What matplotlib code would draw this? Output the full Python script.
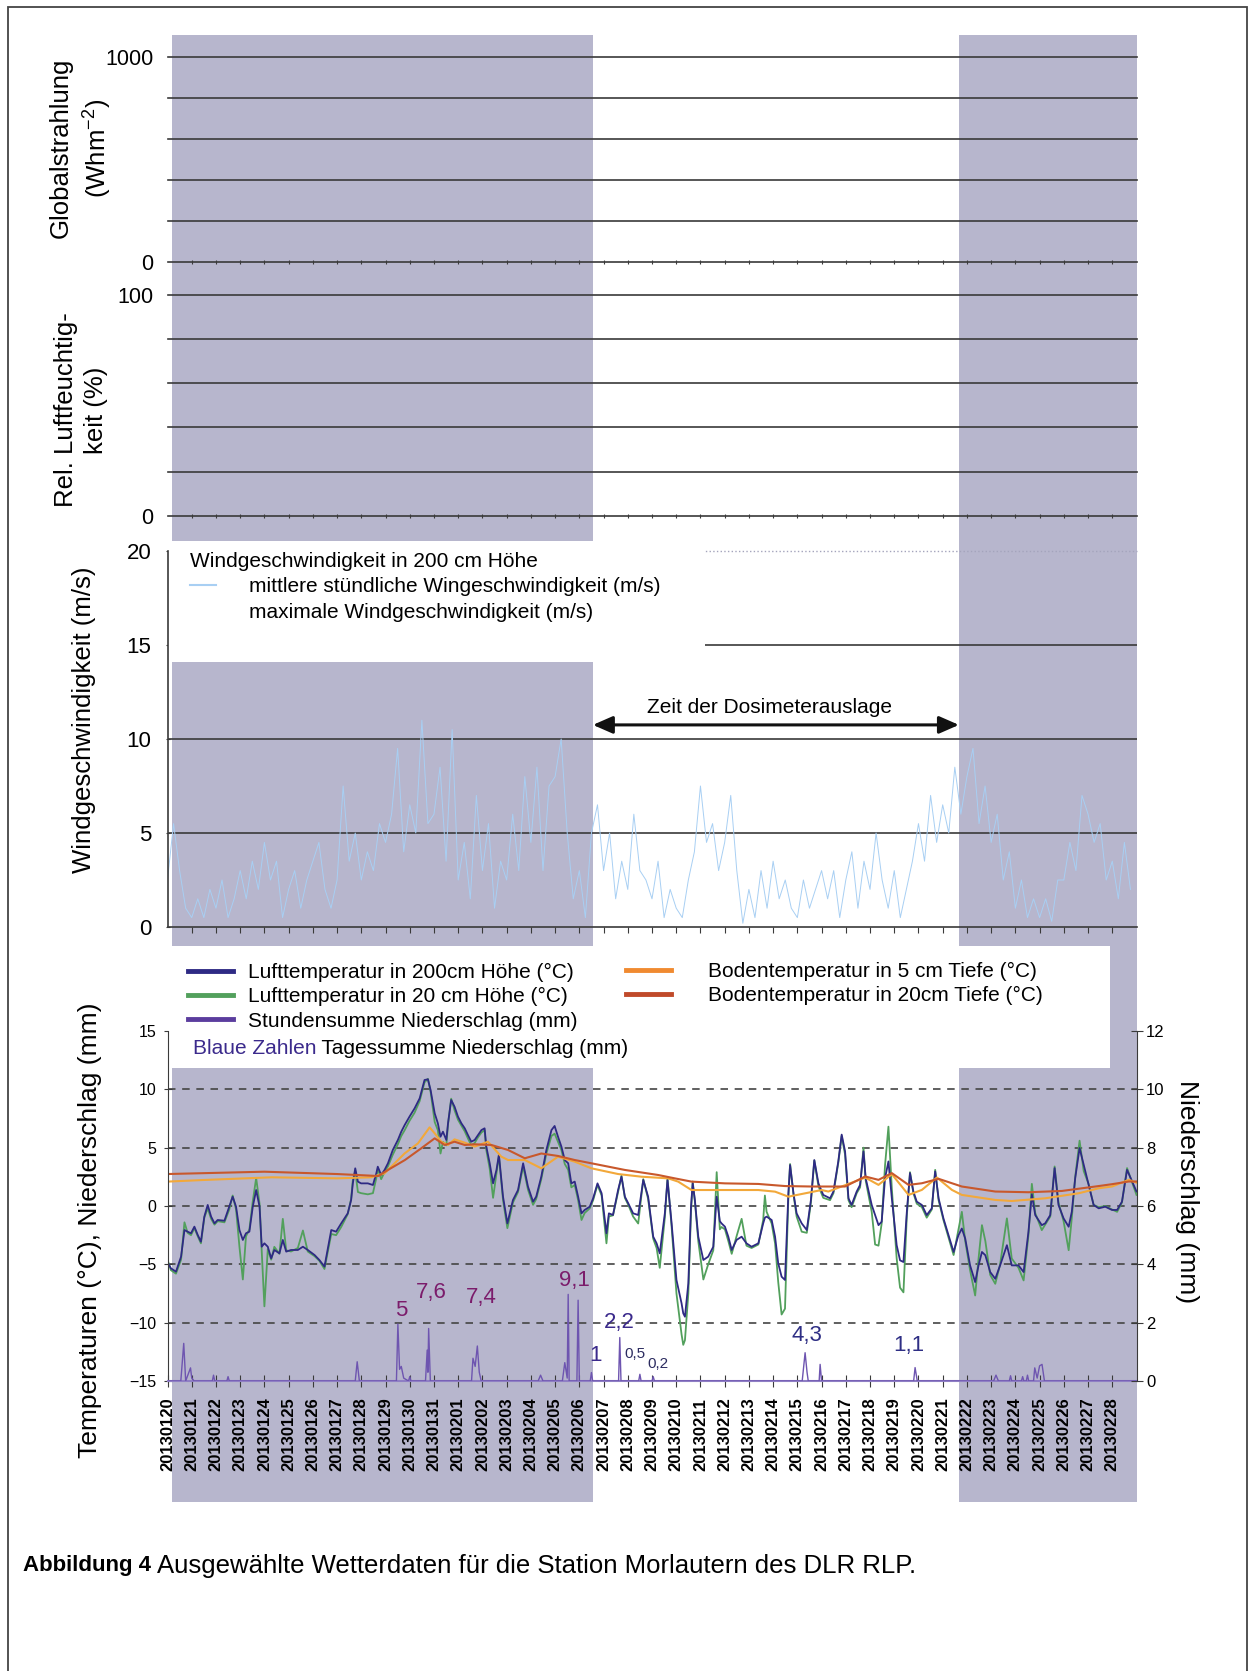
import numpy as np
import pandas as pd
import matplotlib
matplotlib.use("Agg")
import matplotlib.pyplot as plt
from matplotlib.lines import Line2D
from matplotlib.patches import Rectangle

plt.rcParams["font.family"] = ["Liberation Sans", "DejaVu Sans"]
plt.rcParams["mathtext.fontset"] = "custom"
plt.rcParams["mathtext.rm"] = "Liberation Sans"

# x axis = days since 20130120 00:00, one label per day
dates = pd.date_range("2013-01-20", "2013-02-28").strftime("%Y%m%d").tolist()

# time of the dosimeter exposure (days)
dose_start = 17.56
dose_end = 32.67

# mean hourly wind speed in 200 cm (m/s), read every 6 h
wind = [2.5, 5.5, 3.0, 1.0, 0.5, 1.5, 0.5, 2.0, 1.0, 2.5, 0.5, 1.5, 3.0, 1.5, 3.5, 2.0,
        4.5, 2.5, 3.5, 0.5, 2.0, 3.0, 1.0, 2.5, 3.5, 4.5, 2.0, 1.0, 2.5, 7.5, 3.5, 5.0,
        2.5, 4.0, 3.0, 5.5, 4.5, 6.0, 9.5, 4.0, 6.5, 5.0, 11.0, 5.5, 6.0, 8.5, 3.5, 10.5,
        2.5, 4.5, 1.5, 7.0, 3.0, 5.5, 1.0, 3.5, 2.5, 6.0, 3.0, 8.0, 4.5, 8.5, 3.0, 7.5,
        8.0, 10.0, 5.0, 1.5, 3.0, 0.5, 5.0, 6.5, 3.0, 5.0, 1.5, 3.5, 2.0, 6.0, 3.0, 2.5,
        1.5, 3.5, 0.5, 2.0, 1.0, 0.5, 2.5, 4.0, 7.5, 4.5, 5.5, 3.0, 4.5, 7.0, 3.0, 0.2,
        2.0, 0.5, 3.0, 1.0, 3.5, 1.5, 2.5, 1.0, 0.5, 2.5, 1.0, 2.0, 3.0, 1.5, 3.0, 0.5,
        2.5, 4.0, 1.0, 3.5, 2.0, 5.0, 2.5, 1.0, 3.0, 0.5, 2.0, 3.5, 5.5, 3.5, 7.0, 4.5,
        6.5, 5.0, 8.5, 6.0, 8.0, 9.5, 5.5, 7.5, 4.5, 6.0, 2.5, 4.0, 1.0, 2.5, 0.5, 1.5,
        0.5, 1.5, 0.3, 2.5, 2.5, 4.5, 3.0, 7.0, 6.0, 4.5, 5.5, 2.5, 3.5, 1.5, 4.5, 2.0]
t_wind = np.arange(len(wind)) * 0.25

# air temperature in 200 cm and 20 cm (°C)
t_air = [0.0, 0.14, 0.35, 0.56, 0.70, 0.83, 0.97, 1.11, 1.25, 1.38, 1.52, 1.66, 1.80, 1.94,
         2.07, 2.35, 2.55, 2.69, 2.83, 2.97, 3.11, 3.24, 3.38, 3.52, 3.66, 3.80, 3.89, 4.0,
         4.14, 4.28, 4.41, 4.62, 4.76, 4.90, 5.10, 5.38, 5.59, 5.79, 6.07, 6.27, 6.48, 6.62,
         6.76, 6.96, 7.17, 7.44, 7.58, 7.65, 7.75, 7.86, 7.99, 8.27, 8.48, 8.62, 8.68, 8.82,
         8.96, 9.10, 9.30, 9.51, 9.65, 9.79, 9.99, 10.2, 10.41, 10.61, 10.75, 10.86, 11.03,
         11.16, 11.27, 11.37, 11.51, 11.58, 11.71, 11.85, 11.99, 12.13, 12.27, 12.40, 12.54,
         12.68, 12.82, 12.96, 13.09, 13.16, 13.30, 13.44, 13.58, 13.68, 13.85, 14.03, 14.26,
         14.47, 14.68, 14.88, 15.09, 15.22, 15.43, 15.64, 15.85, 15.98, 16.12, 16.26, 16.4,
         16.54, 16.67, 16.81, 16.95, 17.09, 17.22, 17.43, 17.57, 17.75, 17.92, 18.12, 18.22,
         18.39, 18.60, 18.74, 18.88, 19.02, 19.22, 19.43, 19.64, 19.84, 20.05, 20.19, 20.32,
         20.53, 20.64, 20.81, 21.01, 21.22, 21.29, 21.36, 21.50, 21.61, 21.68, 21.77, 21.91,
         22.12, 22.32, 22.53, 22.67, 22.80, 22.87, 23.01, 23.15, 23.29, 23.49, 23.70, 23.90,
         24.11, 24.39, 24.59, 24.66, 24.73, 24.94, 25.08, 25.21, 25.35, 25.49, 25.63, 25.70,
         25.84, 25.97, 26.18, 26.39, 26.56, 26.70, 26.87, 27.07, 27.35, 27.49, 27.69, 27.83,
         27.97, 28.11, 28.24, 28.45, 28.59, 28.73, 28.82, 29.07, 29.21, 29.35, 29.48, 29.62,
         29.76, 29.9, 30.10, 30.24, 30.38, 30.52, 30.65, 30.79, 30.93, 31.14, 31.34, 31.55,
         31.69, 31.83, 32.03, 32.24, 32.45, 32.65, 32.79, 32.93, 33.13, 33.34, 33.48, 33.62,
         33.76, 33.96, 34.17, 34.37, 34.65, 34.85, 35.13, 35.34, 35.54, 35.68, 35.82, 36.09,
         36.23, 36.44, 36.62, 36.78, 36.99, 37.2, 37.33, 37.47, 37.65, 37.82, 38.02, 38.23,
         38.44, 38.71, 38.99, 39.2, 39.4, 39.61, 39.82, 40.0]
air200 = [-4.8, -5.34, -5.63, -4.34, -2.06, -2.2, -2.34, -1.77, -2.49, -3.06, -0.91, 0.09, -0.91, -1.49,
          -1.2, -1.26, -0.06, 0.8, -0.06, -2.06, -2.91, -2.34, -2.2, -0.06, 1.37, -0.06, -3.49, -3.2,
          -3.49, -4.49, -3.77, -4.06, -2.91, -3.91, -3.77, -3.77, -3.49, -3.77, -4.2, -4.63, -5.2, -3.63,
          -2.06, -2.2, -1.49, -0.63, 0.51, 1.94, 3.23, 2.09, 1.94, 1.94, 1.8, 2.8, 3.37, 2.66,
          3.09, 3.66, 4.8, 5.66, 6.37, 6.94, 7.66, 8.37, 9.23, 10.8, 10.86, 9.94, 7.94,
          7.09, 5.94, 6.37, 5.66, 7.09, 9.09, 8.51, 7.66, 7.09, 6.66, 6.09, 5.51,
          5.66, 6.09, 6.51, 6.66, 5.09, 3.66, 1.94, 3.09, 4.4, 0.8, -1.49, 0.51,
          1.37, 3.66, 1.66, 0.37, 0.8, 2.51, 4.8, 6.51, 6.86, 5.94, 5.09, 3.94,
          3.66, 1.94, 2.09, 0.8, -0.63, -0.34, -0.06, 0.66, 1.94, 1.09, -2.34, -0.63,
          -0.77, 1.37, 2.51, 0.8, 0.23, -0.63, -0.77, 2.23, 0.8, -2.63, -3.2, -4.06,
          -0.63, 2.23, -1.49, -6.34, -8.34, -9.2, -9.49, -6.63, -0.06, 1.94, 0.51, -2.63,
          -4.63, -4.34, -3.49, 0.8, -1.3, -1.49, -1.77, -2.63, -3.77, -2.91, -2.63, -3.2,
          -3.49, -3.2, -1.49, -1.0, -0.91, -1.2, -2.63, -4.91, -6.06, -6.34, 1.09, 3.51,
          1.09, -0.63, -1.49, -2.06, 0.51, 3.94, 1.94, 0.95, 0.66, 1.24, 3.82, 6.12,
          4.68, 0.66, 0.09, 1.24, 1.81, 4.68, 2.39, 0.09, -0.78, -1.64, -1.35, 2.39,
          3.82, 0.66, -3.36, -4.66, -4.8, -0.49, 2.82, 1.24, 0.37, 0.09, -0.78, -0.2,
          2.96, 0.66, -1.06, -2.5, -3.94, -2.5, -1.93, -2.79, -5.09, -6.52, -5.09, -3.94,
          -4.22, -5.66, -6.24, -5.09, -3.36, -5.09, -5.09, -5.66, -2.21, 1.0, -0.78, -1.64,
          -1.49, -0.78, 3.25, 0.09, -1.06, -1.78, -0.49, 2.39, 4.97, 3.53, 1.81, 0.09,
          -0.2, -0.06, -0.34, -0.34, 0.37, 3.1, 2.1, 1.24]
air20 = [-4.6, -5.5, -5.8, -4.6, -1.4, -2.3, -2.5, -1.9, -2.6, -3.2, -1.0, -0.2, -1.1, -1.6,
         -1.3, -1.4, -0.3, 0.9, -0.3, -3.5, -6.3, -2.6, -2.0, 0.4, 2.4, 0.2, -3.9, -8.6,
         -3.7, -4.6, -3.5, -4.1, -1.1, -3.8, -3.9, -3.6, -2.1, -3.9, -4.3, -4.7, -5.4, -3.9,
         -2.4, -2.5, -1.8, -0.7, 0.6, 2.2, 3.0, 1.2, 1.1, 1.0, 1.1, 2.4, 3.2, 2.3,
         2.9, 3.4, 4.4, 5.3, 6.0, 6.5, 7.3, 8.0, 9.0, 10.6, 10.9, 9.8, 7.2,
         6.5, 4.5, 5.5, 5.2, 7.0, 9.2, 8.2, 7.4, 6.9, 6.4, 5.8, 5.2,
         5.4, 5.9, 6.3, 6.5, 4.8, 3.2, 0.7, 2.8, 4.3, 0.5, -1.9, 0.3,
         1.2, 3.4, 1.4, 0.1, 0.6, 2.3, 4.5, 6.0, 6.2, 5.5, 4.8, 3.6,
         3.1, 1.6, 1.8, 0.5, -1.2, -0.6, -0.2, 0.5, 1.8, 0.9, -3.2, -0.9,
         -0.8, 1.2, 2.6, 0.7, 0.1, -0.9, -1.5, 2.3, 0.6, -2.8, -3.6, -5.3,
         -1.0, 2.4, -1.8, -7.5, -11.0, -11.9, -11.5, -7.5, -0.5, 2.1, 0.4, -3.0,
         -6.3, -5.0, -3.8, 2.9, -2.0, -1.8, -2.0, -3.0, -4.1, -2.6, -1.1, -3.4,
         -3.6, -3.3, -1.2, 0.9, -0.5, -1.5, -3.2, -6.5, -9.3, -8.8, 0.8, 3.6,
         1.0, -0.9, -2.2, -2.3, 0.3, 3.9, 1.7, 0.7, 0.5, 1.1, 3.7, 6.0,
         4.4, 0.5, -0.1, 1.1, 1.6, 5.0, 2.2, -0.5, -3.3, -3.4, -1.5, 3.5,
         6.8, 1.5, -4.5, -7.0, -7.4, -0.8, 2.9, 1.1, 0.2, -0.1, -1.0, -0.3,
         3.1, 0.5, -1.2, -2.7, -4.2, -2.0, -0.5, -3.0, -5.5, -7.67, -4.5, -1.64,
         -3.0, -5.9, -6.67, -5.0, -1.06, -4.5, -5.3, -6.38, -2.5, 1.9, -0.6, -2.07,
         -1.6, -0.9, 3.39, 0.3, -1.3, -3.79, -1.0, 2.5, 5.6, 3.0, 1.9, 0.1,
         -0.1, 0.0, -0.3, -0.5, 0.3, 3.25, 2.0, 0.95]

# soil temperature in 5 cm and 20 cm depth (°C)
t_soil5 = [0, 1.5, 4.3, 7.0, 8.4, 8.96, 9.79, 10.34, 10.82, 11.03, 11.3, 11.58, 11.85, 12.27, 12.68,
           13.23, 13.78, 14.06, 14.75, 15.43, 16.12, 16.81, 17.5, 18.6, 19.57, 20.67, 21.08, 21.63,
           23.01, 24.39, 25.08, 25.63, 27.0, 27.28, 28.8, 29.35, 29.9, 30.59, 31.14, 31.76, 32.38,
           32.79, 34.17, 34.85, 36.23, 37.61, 38.44, 38.99, 39.68, 40.0]
soil5 = [2.09, 2.23, 2.46, 2.37, 2.46, 2.8, 4.51, 5.37, 6.74, 6.23, 5.51, 5.23, 5.71, 5.43, 5.09,
         5.51, 4.23, 3.94, 3.94, 3.23, 4.23, 3.8, 3.23, 2.74, 2.51, 2.37, 2.09, 1.37,
         1.37, 1.37, 1.23, 0.8, 1.37, 1.24, 2.44, 1.81, 2.73, 0.95, 1.38, 2.44, 1.38,
         0.95, 0.52, 0.43, 0.66, 1.09, 1.52, 1.67, 2.24, 2.0]
t_soil20 = [0, 4.0, 7.0, 8.7, 9.1, 9.8, 10.47, 11.03, 11.44, 11.85, 12.27, 12.68, 13.37, 14.06,
            14.75, 15.43, 16.12, 16.81, 17.5, 18.88, 20.25, 20.94, 21.63, 23.01, 24.39, 25.49,
            26.59, 27.97, 28.8, 29.35, 29.9, 30.59, 31.14, 31.83, 32.79, 34.17, 35.54, 36.92,
            38.3, 38.99, 39.68, 40.0]
soil20 = [2.74, 2.94, 2.74, 2.57, 3.09, 3.94, 4.94, 5.8, 5.23, 5.51, 5.23, 5.29, 5.23, 4.8,
          4.09, 4.5, 4.29, 3.94, 3.66, 3.09, 2.66, 2.37, 2.09, 1.94, 1.89, 1.71,
          1.67, 1.67, 2.53, 2.24, 2.82, 1.81, 1.95, 2.33, 1.67, 1.24, 1.18, 1.29,
          1.67, 1.87, 2.1, 2.1]

# hourly precipitation (mm, right axis)
t_rain = [0, 0.55, 0.67, 0.75, 0.95, 1.0, 1.1, 1.85, 1.9, 1.95, 2.45, 2.5, 2.55, 7.75, 7.83, 7.92,
          9.45, 9.51, 9.58, 9.65, 9.75, 9.95, 10.0, 10.05, 10.65, 10.72, 10.75, 10.78, 10.85,
          12.55, 12.61, 12.7, 12.79, 12.87, 12.95, 15.3, 15.4, 15.5, 16.3, 16.4, 16.5, 16.54,
          16.58, 16.9, 16.95, 17.0, 17.45, 17.5, 17.55, 18.62, 18.67, 18.72, 19.45, 19.5, 19.55,
          20.0, 20.05, 20.1, 26.2, 26.32, 26.4, 26.45, 26.9, 26.94, 27.0, 30.8, 30.86, 30.95,
          34.1, 34.2, 34.3, 34.75, 34.8, 34.85, 35.25, 35.3, 35.35, 35.45, 35.5, 35.55,
          35.75, 35.8, 35.9, 36.0, 36.1, 36.2, 40.0]
rain = [0, 0, 1.29, 0, 0.45, 0.1, 0, 0, 0.2, 0, 0, 0.15, 0, 0, 0.66, 0,
        0, 1.95, 0.4, 0.5, 0.1, 0, 0.15, 0, 0, 1.06, 0.3, 1.8, 0,
        0, 0.78, 0.5, 1.2, 0.3, 0, 0, 0.2, 0, 0, 0.63, 0.1, 2.97,
        0, 0, 2.77, 0, 0, 0.29, 0, 0, 1.49, 0, 0, 0.23, 0,
        0, 0.15, 0, 0, 0.97, 0.3, 0, 0, 0.57, 0, 0, 0.46, 0,
        0, 0.2, 0, 0, 0.18, 0, 0, 0.15, 0, 0, 0.2, 0,
        0, 0.45, 0.1, 0.52, 0.57, 0, 0]

# daily precipitation sums written into the chart (day, °C position)
rain_sum = ["5", "7,6", "7,4", "9,1", "1", "2,2", "0,5", "0,2", "4,3", "1,1"]
rain_sum_x = [9.65, 10.88, 12.95, 16.8, 17.67, 18.66, 19.3, 20.25, 26.39, 30.6]
rain_sum_y = [-8.92, -7.38, -7.8, -6.35, -12.78, -9.95, -12.7, -13.5, -11.06, -11.92]
rain_sum_col = ["#7b1c6b"] * 4 + ["#3b2a8c", "#3b2a8c", "#2c2c60", "#2c2c60", "#2e2e84", "#2e2e84"]
rain_sum_size = [16, 16, 16, 16, 16, 16, 11, 11, 16, 16]

# colours
shade = "#b7b6cd"
grid = "#3a3a3a"
c_wind = "#a8cff3"
c_air200 = "#2e2a84"
c_air20 = "#52a05c"
c_soil5 = "#f2a83a"
c_soil20 = "#c8582c"
c_rain = "#6e55b0"

W, H = 1253, 1671
fig = plt.figure(figsize=(W / 100, H / 100), dpi=100)


def place(l, t, r, b):
    # pixel box -> figure fraction
    return [l / W, 1 - b / H, (r - l) / W, (b - t) / H]


x0, x1 = 167.5, 1136.5

# outer frame of the page figure
fig.add_artist(Rectangle((8 / W, -0.01), 1239 / W, 1.01 - 7 / H, transform=fig.transFigure,
                         fill=False, ec="#444444", lw=1.3))

# grey background = outside of the exposure period
ax_bg = fig.add_axes(place(x0, 35, x1, 1502))
ax_bg.set_xlim(0, 40)
ax_bg.axis("off")
ax_bg.axvspan(0.2, dose_start, color=shade, lw=0)
ax_bg.axvspan(dose_end, 40, color=shade, lw=0)


def empty_panel(top, bottom, ymax, step, lbls):
    ax = fig.add_axes(place(x0, top, x1, bottom), facecolor="none")
    ax.set_xlim(0, 40)
    ax.set_ylim(0, ymax)
    for v in np.arange(0, ymax + step, step):
        ax.axhline(v, color=grid, lw=1.2, clip_on=False)
    for s in ax.spines.values():
        s.set_visible(False)
    ax.set_yticks([0, ymax], lbls)
    ax.tick_params(axis="y", length=0, pad=10, labelsize=15.5)
    ax.set_xticks(np.arange(1, 40))
    ax.tick_params(axis="x", length=2.5, direction="inout", color=grid, labelbottom=False)
    return ax


# Globalstrahlung (no data)
ax_rad = empty_panel(57, 262, 1000, 200, ["0", "1000"])
ax_rad.set_ylabel("Globalstrahlung\n(Whm$^{-2}$)", fontsize=18.5, va="center", linespacing=1.3)
ax_rad.yaxis.set_label_coords((81 - x0) / (x1 - x0), 0.556)

# relative humidity (no data)
ax_hum = empty_panel(294.6, 516, 100, 20, ["0", "100"])
ax_hum.set_ylabel("Rel. Luftfeuchtig-\nkeit (%)", fontsize=18.5, va="center", linespacing=1.3)
ax_hum.yaxis.set_label_coords((81 - x0) / (x1 - x0), 0.479)

# wind
ax_w = fig.add_axes(place(x0, 551, x1, 927), facecolor="none")
ax_w.set_xlim(0, 40)
ax_w.set_ylim(0, 20)
for v in (5, 10, 15):
    ax_w.axhline(v, color=grid, lw=1.2, zorder=1.5)
ax_w.axhline(20, color="#a4a4bc", lw=1, ls=":", zorder=1.5, clip_on=False)
ax_w.plot(t_wind, wind, color=c_wind, lw=0.7)
ax_w.spines[["top", "right"]].set_visible(False)
for s in ("left", "bottom"):
    ax_w.spines[s].set_color(grid)
    ax_w.spines[s].set_linewidth(1.2)
ax_w.set_yticks([0, 5, 10, 15, 20])
ax_w.tick_params(axis="y", length=3, direction="inout", color=grid, labelsize=16, pad=10)
ax_w.set_xticks(np.arange(1, 40))
ax_w.tick_params(axis="x", length=4, color=grid, labelbottom=False)
ax_w.set_ylabel("Windgeschwindigkeit (m/s)", fontsize=18.5, va="center")
ax_w.yaxis.set_label_coords((84 - x0) / (x1 - x0), 0.55)
ax_w.add_patch(Rectangle((0, 0.7048), 0.5547, 0.3218, transform=ax_w.transAxes,
                         fc="white", ec="none", zorder=1.8, clip_on=False))
ax_w.legend([Line2D([], [], color=c_wind, lw=1.5), Line2D([], [], color="none")],
            ["mittlere stündliche Wingeschwindigkeit (m/s)", "maximale Windgeschwindigkeit (m/s)"],
            title="Windgeschwindigkeit in 200 cm Höhe", alignment="left",
            fontsize=15, title_fontsize=15, frameon=False, loc="upper left",
            bbox_to_anchor=(190 / W, 1 - 552 / H), bbox_transform=fig.transFigure,
            borderpad=0, borderaxespad=0, handlelength=1.25, handletextpad=1.6, labelspacing=0.3)
ax_w.annotate("", xy=(dose_end, 10.75), xytext=(dose_start, 10.75),
              arrowprops=dict(arrowstyle="<|-|>,head_length=0.8,head_width=0.35", mutation_scale=15,
                              lw=2.2, color="#111111", shrinkA=0, shrinkB=0),
              annotation_clip=False)
ax_w.text(24.85, 11.65, "Zeit der Dosimeterauslage", fontsize=15, ha="center", va="center")

# temperatures and precipitation
ax_t = fig.add_axes(place(x0, 1031, x1, 1381), facecolor="none")
ax_t.set_xlim(0, 40)
ax_t.set_ylim(-15, 15)
for v in (-10, -5, 0, 5, 10):
    ax_t.axhline(v, color="#444444", lw=1.2, ls=(0, (4.5, 4)), zorder=1.5)
ax_t.plot(t_air, air20, color=c_air20, lw=1.3)
ax_t.plot(t_air, air200, color=c_air200, lw=1.3)
ax_t.plot(t_soil5, soil5, color=c_soil5, lw=1.5)
ax_t.plot(t_soil20, soil20, color=c_soil20, lw=1.5)
for lbl, x, y, c, fs in zip(rain_sum, rain_sum_x, rain_sum_y, rain_sum_col, rain_sum_size):
    ax_t.text(x, y, lbl, color=c, fontsize=fs, ha="center", va="center")
ax_t.spines[["top", "right"]].set_visible(False)
ax_t.spines["left"].set_color(grid)
ax_t.spines["bottom"].set_color("#8f7fc4")
ax_t.spines["bottom"].set_linewidth(1.5)
ax_t.set_yticks(np.arange(-15, 16, 5))
ax_t.tick_params(axis="y", length=6, direction="inout", color=grid, labelsize=11.5, pad=5)
ax_t.set_xticks(np.arange(40), dates, rotation=90, fontsize=12, fontweight="bold")
ax_t.tick_params(axis="x", length=8, direction="inout", color=grid, pad=8)
ax_t.set_ylabel("Temperaturen (°C), Niederschlag (mm)", fontsize=19, va="center")
ax_t.yaxis.set_label_coords((90 - x0) / (x1 - x0), 0.431)
ax_t.add_patch(Rectangle((0, 0.894), 0.9726, 0.349, transform=ax_t.transAxes,
                         fc="white", ec="none", zorder=1.8, clip_on=False))

leg1 = ax_t.legend([Line2D([], [], color=c_air200, lw=3.5), Line2D([], [], color=c_air20, lw=3.5),
                    Line2D([], [], color="#5b3d9e", lw=3.5)],
                   ["Lufttemperatur in 200cm Höhe (°C)", "Lufttemperatur in 20 cm Höhe (°C)",
                    "Stundensumme Niederschlag (mm)"],
                   loc="upper left", bbox_to_anchor=(188 / W, 1 - 963 / H), bbox_transform=fig.transFigure,
                   frameon=False, fontsize=15, borderpad=0, borderaxespad=0,
                   handlelength=2.16, handletextpad=0.72, labelspacing=0.25)
ax_t.add_artist(leg1)
ax_t.legend([Line2D([], [], color="#f08a30", lw=3.5), Line2D([], [], color="#c04a2a", lw=3.5)],
            ["Bodentemperatur in 5 cm Tiefe (°C)", "Bodentemperatur in 20cm Tiefe (°C)"],
            loc="upper left", bbox_to_anchor=(626 / W, 1 - 962 / H), bbox_transform=fig.transFigure,
            frameon=False, fontsize=15, borderpad=0, borderaxespad=0,
            handlelength=2.16, handletextpad=1.78, labelspacing=0.25)
blue = fig.text(193 / W, 1 - 1048 / H, "Blaue Zahlen", color="#3b2a8c", fontsize=15, va="center")
ax_t.annotate(" Tagessumme Niederschlag (mm)", xy=(1, 0.5), xycoords=blue, fontsize=15,
              va="center", annotation_clip=False)

ax_p = ax_t.twinx()
ax_p.set_ylim(0, 12)
ax_p.plot(t_rain, rain, color=c_rain, lw=1.0)
for s in ("left", "top", "bottom"):
    ax_p.spines[s].set_visible(False)
ax_p.spines["right"].set_color(grid)
ax_p.set_yticks(np.arange(0, 13, 2))
ax_p.tick_params(axis="y", length=8, direction="inout", color=grid, labelsize=12, pad=3)
ax_p.set_ylabel("Niederschlag (mm)", fontsize=19, rotation=270, va="center")
ax_p.yaxis.set_label_coords((1187 - x0) / (x1 - x0), 0.54)

# caption
fig.text(23 / W, 1 - 1566 / H, "Abbildung 4", fontweight="bold", fontsize=16, va="center")
fig.text(157 / W, 1 - 1566 / H, "Ausgewählte Wetterdaten für die Station Morlautern des DLR RLP.",
         fontsize=18.5, va="center")

fig.savefig("out.png", dpi=100)
